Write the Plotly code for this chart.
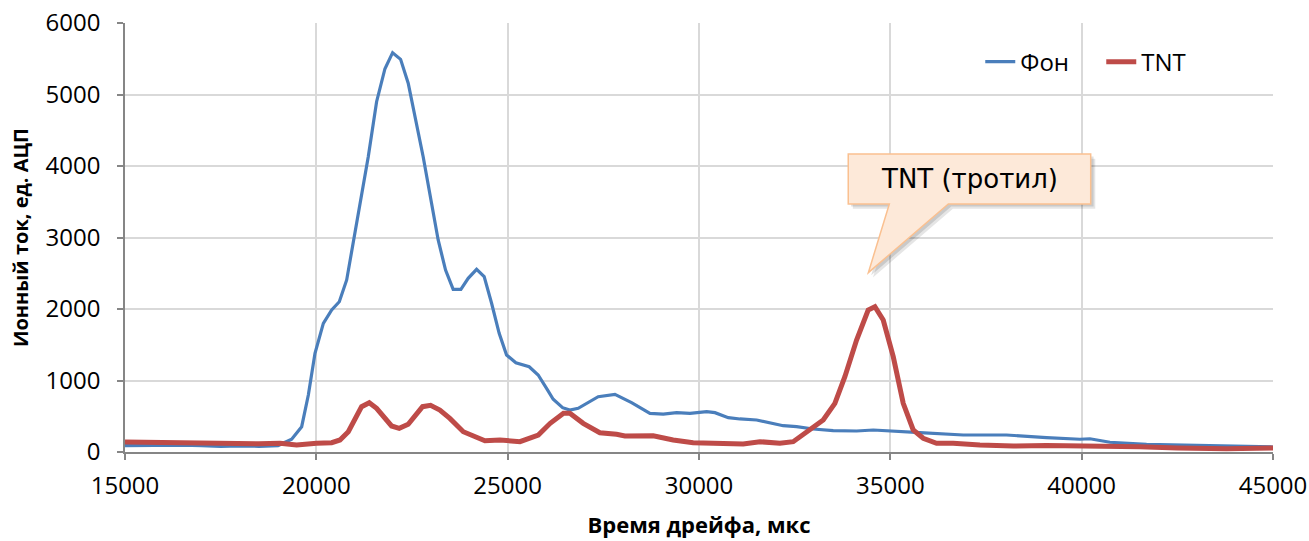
import plotly.graph_objects as go

# ---- data ----
fon_x = [15000, 15500, 16000, 16500, 17000, 17500, 18000, 18500, 19000, 19355, 19617, 19791, 19965,
         20183, 20401, 20600, 20793, 20966, 21183, 21357, 21575, 21793, 21993, 22202, 22401, 22575,
         22792, 23011, 23184, 23377, 23576, 23777, 23968, 24188, 24386, 24580, 24778, 24971, 25214,
         25562, 25797, 26016, 26190, 26435, 26626, 26843, 27366, 27803, 28238, 28718, 29066, 29416,
         29764, 30200, 30417, 30765, 31070, 31506, 31854, 32201, 32550, 32985, 33507, 34118, 34553,
         35163, 35773, 36905, 38036, 39082, 39954, 40215, 40738, 41696, 42567, 43787, 45000]
fon_y = [90, 95, 100, 95, 90, 80, 85, 80, 90, 178, 354, 797, 1380,
         1800, 1986, 2102, 2406, 2918, 3571, 4130, 4899, 5361, 5585, 5492, 5157, 4713,
         4130, 3478, 2965, 2545, 2275, 2275, 2429, 2555, 2452, 2080, 1660, 1357, 1249,
         1193, 1077, 891, 737, 620, 587, 611, 773, 807, 690, 541, 531, 550,
         541, 564, 550, 480, 462, 448, 410, 368, 354, 322, 298, 294, 308,
         284, 270, 238, 238, 200, 178, 185, 136, 108, 98, 90, 70]

tnt_x = [15000, 15500, 16000, 16500, 17000, 17500, 18000, 18500, 19050, 19485, 20007, 20401, 20618,
         20836, 21183, 21383, 21575, 21966, 22166, 22401, 22776, 22985, 23228, 23489, 23840, 24098,
         24406, 24798, 25321, 25800, 26111, 26459, 26626, 26974, 27409, 27845, 28063, 28803, 29325,
         29848, 30458, 31155, 31591, 32114, 32462, 32810, 33246, 33551, 33812, 34118, 34421, 34597,
         34814, 35076, 35337, 35598, 35860, 36208, 36643, 37340, 38211, 39082, 39954, 40825, 41522,
         42500, 43787, 45000]
tnt_y = [140, 135, 130, 125, 125, 120, 125, 115, 121, 98, 121, 130, 168,
         284, 634, 690, 611, 364, 331, 387, 634, 653, 587, 470, 284, 224,
         158, 168, 144, 238, 401, 541, 541, 401, 270, 247, 224, 228, 168,
         130, 121, 112, 144, 121, 144, 284, 448, 681, 1053, 1566, 1986, 2033,
         1846, 1333, 681, 308, 192, 121, 121, 98, 84, 90, 84, 84, 74,
         55, 45, 55]

series_names = ["Фон", "TNT"]
x_title = "Время дрейфа, мкс"
y_title = "Ионный ток, ед. АЦП"
callout_text = "TNT (тротил)"

BLUE = "#4A7EBB"
RED = "#BE4B48"
GRID = "#D9D9D9"
AXIS = "#868686"

fig = go.Figure()
fig.add_trace(go.Scatter(x=fon_x, y=fon_y, mode="lines", name=series_names[0],
                         line=dict(color=BLUE, width=3.2)))
fig.add_trace(go.Scatter(x=tnt_x, y=tnt_y, mode="lines", name=series_names[1],
                         line=dict(color=RED, width=5)))

# callout (paper coordinates)
rx0, rx1, ry0, ry1 = 0.630, 0.8412, 0.578, 0.6946
bl, br, tipx, tipy = 0.6658, 0.7172, 0.6475, 0.418


def callout_path(dx=0.0, dy=0.0):
    pts = [(rx0, ry1), (rx1, ry1), (rx1, ry0), (br, ry0), (tipx, tipy), (bl, ry0), (rx0, ry0)]
    return "M " + " L ".join(f"{x + dx:.4f},{y + dy:.4f}" for x, y in pts) + " Z"


shapes = [
    dict(type="path", xref="paper", yref="paper", path=callout_path(0.004, -0.011),
         fillcolor="rgba(0,0,0,0.10)", line=dict(width=0), layer="above"),
    dict(type="path", xref="paper", yref="paper", path=callout_path(0.0025, -0.006),
         fillcolor="rgba(0,0,0,0.12)", line=dict(width=0), layer="above"),
    dict(type="path", xref="paper", yref="paper", path=callout_path(),
         fillcolor="#FDE9D9", line=dict(color="#FAC090", width=1.5), layer="above"),
]

fig.update_layout(
    width=1309, height=541,
    margin=dict(l=125, r=36, t=23, b=89, autoexpand=False),
    paper_bgcolor="white", plot_bgcolor="white",
    font=dict(family="Open Sans", size=24, color="#000000"),
    shapes=shapes,
    showlegend=True,
    legend=dict(orientation="h", x=0.745, y=0.909, xanchor="left", yanchor="middle",
                bgcolor="rgba(0,0,0,0)", font=dict(size=24),
                entrywidth=76, entrywidthmode="pixels",
                tracegroupgap=0),
    annotations=[dict(xref="paper", yref="paper", x=(rx0 + rx1) / 2, y=(ry0 + ry1) / 2,
                      xanchor="center", yanchor="middle",
                      text=callout_text, showarrow=False,
                      font=dict(family="DejaVu Sans", size=26, color="#000000"))],
)

fig.update_xaxes(range=[15000, 45000], dtick=5000, tick0=15000, tickformat="d",
                 automargin=False,
                 showgrid=True, gridcolor=GRID, gridwidth=1.5,
                 showline=True, linecolor=AXIS, linewidth=1.5,
                 ticks="outside", ticklen=6, tickcolor=AXIS, tickwidth=1.5,
                 ticklabelstandoff=5, zeroline=False,
                 title=dict(text=f"<b>{x_title}</b>", font=dict(size=22), standoff=18))
fig.update_yaxes(range=[0, 6000], dtick=1000, tickformat="d",
                 automargin=False,
                 showgrid=True, gridcolor=GRID, gridwidth=1.5,
                 showline=True, linecolor=AXIS, linewidth=1.5,
                 ticks="outside", ticklen=6, tickcolor=AXIS, tickwidth=1.5,
                 ticklabelstandoff=12, zeroline=False,
                 title=dict(text=f"<b>{y_title}</b>", font=dict(size=20), standoff=12))

# remove the default 8px page margin so the figure sits at the window's top-left corner
fig.write_html("out.html", config={"displayModeBar": False},
               post_script="document.body.style.margin='0';")
